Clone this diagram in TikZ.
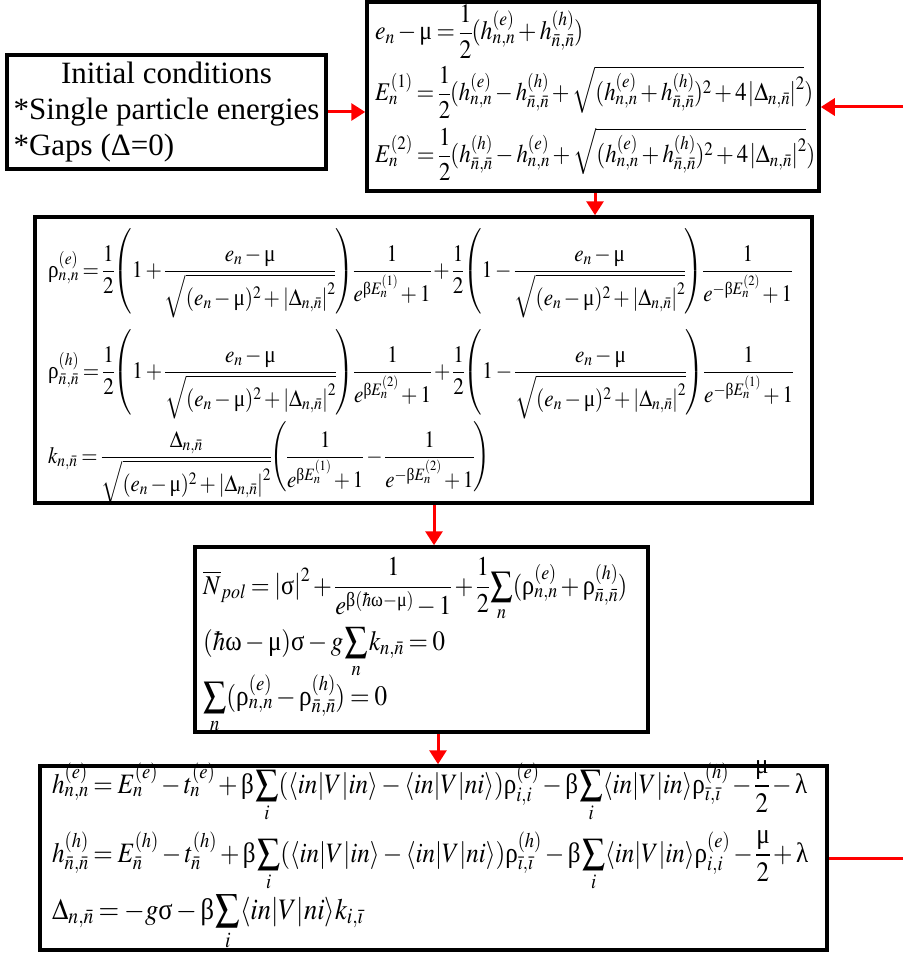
\documentclass[tikz,border=0pt]{standalone}
\usepackage{mathptmx}
\usepackage{amsmath}
\usepackage[no-math]{fontspec}
\setmainfont{Liberation Serif}
\usepackage{graphicx}
\usetikzlibrary{arrows.meta}
\newcommand{\myn}{\bar{n}}
\newcommand{\myi}{\bar{\imath}}
\newcommand{\Gk}[1]{\mathord{\text{\upshape #1}}}
\newcommand{\gmu}{\Gk{μ}}
\newcommand{\grho}{\Gk{ρ}}
\newcommand{\gbeta}{\Gk{β}}
\newcommand{\gsig}{\Gk{σ}}
\newcommand{\gom}{\Gk{ω}}
\newcommand{\glam}{\Gk{λ}}
\newcommand{\Sm}[1]{\mathop{\vcenter{\hbox{\scalebox{0.9}{$\displaystyle\sum$}}}}\limits_{#1}}
\newcommand{\EL}[2]{\scalebox{1}[1.12]{\resizebox{#1pt}{!}{$\thinmuskip=1mu\medmuskip=2.5mu\thickmuskip=3.5mu\nulldelimiterspace=0pt\scriptspace=0pt\displaystyle #2$}}}
\newcommand{\Sq}{\sqrt{(e_n-\gmu)^2+\left|\Delta_{n,\myn}\right|^2}}
\begin{document}
\begin{tikzpicture}[x=1pt,y=-1pt,
  box/.style={draw=black, line width=3.5pt, inner sep=0pt},
  eq/.style={anchor=base west, inner sep=0pt},
  redarrow/.style={draw=red, line width=3pt, -{Triangle[length=14pt,width=17pt]}},
  redline/.style={draw=red, line width=3pt}]
\useasboundingbox (0,0) rectangle (903,955);

% boxes
\node[box, minimum width=319pt, minimum height=114pt,
      font=\fontsize{31}{36}\selectfont] (init) at (166.5,112)
  {\begin{tabular}{@{}l@{}}\multicolumn{1}{c}{Initial conditions}\\
   {*}Single particle energies\\ {*}Gaps (Δ=0)\end{tabular}};
\node[box, minimum width=452pt, minimum height=189pt] (top) at (593,96.5) {};
\node[box, minimum width=777pt, minimum height=286pt] (box2) at (423.5,360) {};
\node[box, minimum width=453pt, minimum height=185pt] (box3) at (421.5,639.5) {};
\node[box, minimum width=787pt, minimum height=184pt] (box4) at (433.5,858) {};

% top box
\node[eq] (t1) at (375,40) {\EL{208}{e_n-\gmu=\frac{1}{2}(h^{(e)}_{n,n}+h^{(h)}_{\myn,\myn})}};
\node[eq] (t2) at (375,101) {\EL{438}{E^{(1)}_n=\frac{1}{2}(h^{(e)}_{n,n}-h^{(h)}_{\myn,\myn}+\sqrt{(h^{(e)}_{n,n}+h^{(h)}_{\myn,\myn})^2+4\left|\Delta_{n,\myn}\right|^2})}};
\node[eq] (t3) at (375,163) {\EL{440}{E^{(2)}_n=\frac{1}{2}(h^{(h)}_{\myn,\myn}-h^{(e)}_{n,n}+\sqrt{(h^{(e)}_{n,n}+h^{(h)}_{\myn,\myn})^2+4\left|\Delta_{n,\myn}\right|^2})}};

% box 2
\node[eq] (b1) at (48,277) {\EL{744}{\grho^{(e)}_{n,n}=\frac{1}{2}\!\left(1+\frac{e_n-\gmu}{\Sq}\right)\!\frac{1}{e^{\gbeta E^{(1)}_n}+1}+\frac{1}{2}\!\left(1-\frac{e_n-\gmu}{\Sq}\right)\!\frac{1}{e^{-\gbeta E^{(2)}_n}+1}}};
\node[eq] (b2) at (48,378) {\EL{745}{\grho^{(h)}_{\myn,\myn}=\frac{1}{2}\!\left(1+\frac{e_n-\gmu}{\Sq}\right)\!\frac{1}{e^{\gbeta E^{(2)}_n}+1}+\frac{1}{2}\!\left(1-\frac{e_n-\gmu}{\Sq}\right)\!\frac{1}{e^{-\gbeta E^{(1)}_n}+1}}};
\node[eq] (b3) at (48,463) {\EL{442}{k_{n,\myn}=\frac{\Delta_{n,\myn}}{\Sq}\!\left(\frac{1}{e^{\gbeta E^{(1)}_n}+1}-\frac{1}{e^{-\gbeta E^{(2)}_n}+1}\right)}};

% box 3
\node[eq] (c1) at (203,594) {\EL{424}{\overline{N}_{pol}=\left|\gsig\right|^2+\frac{1}{e^{\gbeta(\hbar\gom-\gmu)}-1}+\frac{1}{2}\Sm{n}(\grho^{(e)}_{n,n}+\grho^{(h)}_{\myn,\myn})}};
\node[eq] (c2) at (203,650) {\EL{242}{(\hbar\gom-\gmu)\gsig-g\Sm{n}k_{n,\myn}=0}};
\node[eq] (c3) at (203,705) {\EL{184}{\Sm{n}(\grho^{(e)}_{n,n}-\grho^{(h)}_{\myn,\myn})=0}};

% box 4
\node[eq] (d1) at (52,793) {\EL{755}{h^{(e)}_{n,n}=E^{(e)}_n-t^{(e)}_n+\gbeta\Sm{i}(\langle in|V|in\rangle-\langle in|V|ni\rangle)\grho^{(e)}_{i,i}-\gbeta\Sm{i}\langle in|V|in\rangle\grho^{(h)}_{\myi,\myi}-\frac{\gmu}{2}-\glam}};
\node[eq] (d2) at (52,862) {\EL{756}{h^{(h)}_{\myn,\myn}=E^{(h)}_{\myn}-t^{(h)}_{\myn}+\gbeta\Sm{i}(\langle in|V|in\rangle-\langle in|V|ni\rangle)\grho^{(h)}_{\myi,\myi}-\gbeta\Sm{i}\langle in|V|in\rangle\grho^{(e)}_{i,i}-\frac{\gmu}{2}+\glam}};
\node[eq] (d3) at (52,919) {\EL{311}{\Delta_{n,\myn}=-g\gsig-\gbeta\Sm{i}\langle in|V|ni\rangle k_{i,\myi}}};

% connectors
\coordinate (fbin) at (903,107);
\coordinate (fbout) at (903,858);
\draw[redarrow] (init.east) -- (init.east -| top.west);
\draw[redarrow] (fbin) -- (fbin -| top.east);
\draw[redarrow] ([xshift=2pt]top.south) -- ([xshift=2pt]top.south |- box2.north);
\draw[redarrow] ([xshift=10.5pt]box2.south) -- ([xshift=10.5pt]box2.south |- box3.north);
\draw[redarrow] ([xshift=16.5pt]box3.south) -- ([xshift=16.5pt]box3.south |- box4.north);
\draw[redline] (box4.east) -- (fbout);
\end{tikzpicture}
\end{document}
